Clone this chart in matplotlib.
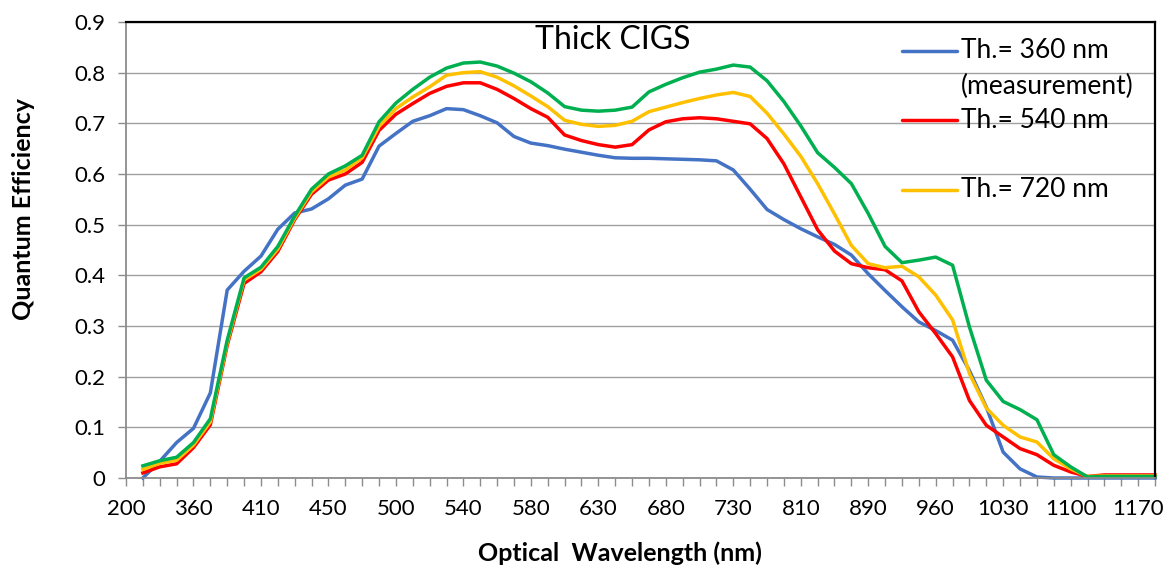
import numpy as np
import matplotlib.pyplot as plt

plt.rcParams['font.family'] = ['Lato', 'DejaVu Sans']

# wavelength labels shown on the category axis (one every 4 categories)
wl_labels = ['200', '360', '410', '450', '500', '540', '580', '630',
             '680', '730', '810', '890', '960', '1030', '1100', '1170']
n_cat = 62   # number of categories on the axis

# quantum efficiency, categories 1..61
qe_360 = [0.000, 0.033, 0.070, 0.098, 0.168, 0.371, 0.408, 0.438, 0.491, 0.523,
          0.531, 0.551, 0.578, 0.590, 0.655, 0.680, 0.704, 0.715, 0.729, 0.727,
          0.715, 0.701, 0.674, 0.661, 0.656, 0.649, 0.643, 0.637, 0.632, 0.631,
          0.631, 0.630, 0.629, 0.628, 0.626, 0.608, 0.570, 0.530, 0.510, 0.492,
          0.476, 0.461, 0.440, 0.403, 0.370, 0.338, 0.308, 0.291, 0.272, 0.212,
          0.140, 0.051, 0.018, 0.002, 0.000, 0.000, 0.000, 0.000, 0.000, 0.000,
          0.000]
qe_540 = [0.010, 0.022, 0.028, 0.060, 0.105, 0.262, 0.384, 0.407, 0.447, 0.510,
          0.560, 0.588, 0.600, 0.623, 0.686, 0.718, 0.739, 0.759, 0.773, 0.780,
          0.780, 0.767, 0.749, 0.729, 0.712, 0.677, 0.666, 0.658, 0.653, 0.658,
          0.687, 0.703, 0.709, 0.711, 0.709, 0.704, 0.699, 0.670, 0.620, 0.555,
          0.490, 0.448, 0.423, 0.415, 0.411, 0.389, 0.328, 0.285, 0.239, 0.153,
          0.104, 0.081, 0.058, 0.046, 0.025, 0.012, 0.003, 0.006, 0.006, 0.006,
          0.006]
qe_720 = [0.017, 0.029, 0.035, 0.065, 0.111, 0.267, 0.391, 0.412, 0.452, 0.513,
          0.565, 0.594, 0.608, 0.632, 0.694, 0.729, 0.752, 0.772, 0.795, 0.800,
          0.802, 0.791, 0.774, 0.754, 0.733, 0.706, 0.698, 0.694, 0.696, 0.704,
          0.723, 0.732, 0.741, 0.749, 0.756, 0.761, 0.753, 0.720, 0.679, 0.635,
          0.581, 0.521, 0.459, 0.423, 0.415, 0.418, 0.397, 0.361, 0.312, 0.206,
          0.138, 0.104, 0.081, 0.071, 0.038, 0.018, 0.003, 0.004, 0.004, 0.004,
          0.004]
qe_900 = [0.024, 0.034, 0.041, 0.070, 0.117, 0.272, 0.395, 0.416, 0.457, 0.517,
          0.570, 0.600, 0.616, 0.637, 0.703, 0.740, 0.767, 0.791, 0.809, 0.819,
          0.821, 0.813, 0.799, 0.782, 0.760, 0.733, 0.726, 0.724, 0.726, 0.732,
          0.762, 0.777, 0.790, 0.801, 0.807, 0.815, 0.811, 0.784, 0.743, 0.695,
          0.642, 0.613, 0.581, 0.522, 0.457, 0.425, 0.430, 0.436, 0.420, 0.298,
          0.193, 0.151, 0.135, 0.115, 0.046, 0.022, 0.002, 0.003, 0.003, 0.003,
          0.003]

series = [(qe_360, '#4472C4', ['Th.= 360 nm', '(measurement)']),
          (qe_540, '#FF0000', ['Th.= 540 nm']),
          (qe_720, '#FFC000', ['Th.= 720 nm']),
          (qe_900, '#00B050', None)]

fig = plt.figure(figsize=(11.73, 5.69), dpi=100)
ax = fig.add_axes([126/1173, 1 - 478/569, 1029/1173, 456/569])

x = np.arange(1, n_cat)
for vals, col, lab in series:
    ax.plot(x, vals, color=col, lw=2.5, solid_joinstyle='round', clip_on=False)

ax.set_xlim(0, n_cat - 1)
ax.set_ylim(0, 0.9)

# y axis
ax.set_yticks(np.arange(0, 0.91, 0.1))
ax.set_yticklabels(['0', '0.1', '0.2', '0.3', '0.4', '0.5', '0.6', '0.7', '0.8', '0.9'])
ax.yaxis.grid(True, color='#a0a0a0', lw=1.0)
ax.set_axisbelow(True)

# x axis: a tick on every category, a label on every 4th
ax.set_xticks(np.arange(0, 4 * len(wl_labels), 4))
ax.set_xticklabels(wl_labels)
ax.set_xticks(np.arange(0, n_cat), minor=True)

ax.tick_params(axis='both', which='both', direction='out', length=6,
               color='#8c8c8c', width=1.0, labelsize=16, labelcolor='black')
ax.tick_params(axis='x', pad=9)
ax.tick_params(axis='y', pad=9)

for s in ['left', 'bottom']:
    ax.spines[s].set_color('#8c8c8c')
    ax.spines[s].set_linewidth(1.3)
for s in ['top', 'right']:
    ax.spines[s].set_color('black')
    ax.spines[s].set_linewidth(1.6)

ax.set_xlabel('Optical  Wavelength (nm)', fontsize=18, fontweight='bold')
ax.set_ylabel('Quantum Efficiency', fontsize=18, fontweight='bold')
ax.xaxis.set_label_coords(0.48, -0.138)
ax.yaxis.set_label_coords(-0.088, 0.59)

ax.text(0.473, 0.9605, 'Thick CIGS', transform=ax.transAxes, fontsize=23,
        ha='center', va='center')

# legend without frame, lines drawn at the first text line of each entry
leg_y = [0.937, 0.785, 0.632]
line_step = 0.079
for (vals, col, lab), ly in zip(series[:3], leg_y):
    ax.plot([0.7545, 0.8075], [ly, ly], transform=ax.transAxes, color=col,
            lw=2.5, solid_capstyle='round', clip_on=False)
    for k, txt in enumerate(lab):
        ax.text(0.8115, ly - k * line_step, txt, transform=ax.transAxes,
                fontsize=19, ha='left', va='center')

fig.savefig('out.png', dpi=100)
